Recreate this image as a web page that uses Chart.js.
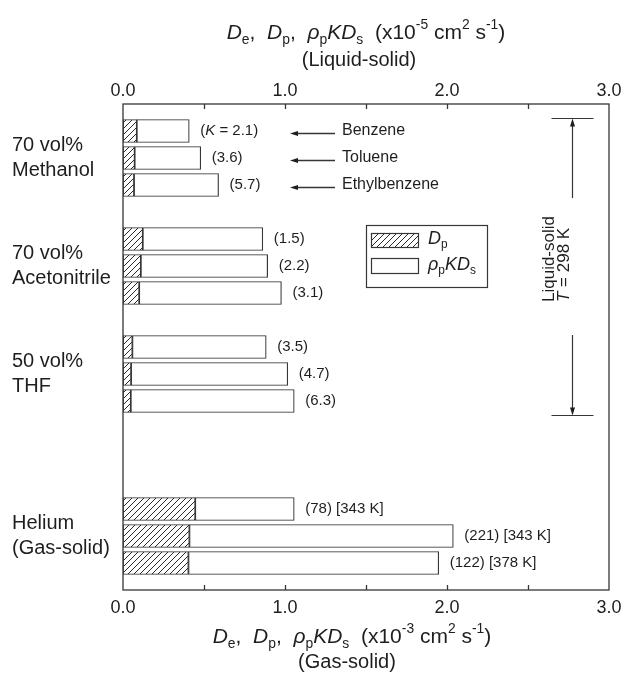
<!DOCTYPE html>
<html>
<head>
<meta charset="utf-8">
<script src="https://cdn.jsdelivr.net/npm/chart.js@4.4.1/dist/chart.umd.min.js"></script>
<style>
  html, body { margin: 0; padding: 0; background: #fff; }
  #wrap { width: 625px; height: 680px; position: relative; }
</style>
</head>
<body>
<div id="wrap"><canvas id="chart" width="625" height="680"></canvas></div>
<script>
// Pore (Dp) and surface (rho_p K Ds) diffusivities for three solutes
// in three liquid mobile phases, and for helium in the gas phase.
const groupNames = [
  ['70 vol%', 'Methanol'],
  ['70 vol%', 'Acetonitrile'],
  ['50 vol%', 'THF'],
  ['Helium', '(Gas-solid)']
];
const solutes = ['Benzene', 'Toluene', 'Ethylbenzene'];
const dpValues      = [0.085, 0.072, 0.068, 0.122, 0.110, 0.100, 0.058, 0.050, 0.048, 0.446, 0.410, 0.404];
const surfaceValues = [0.324, 0.408, 0.522, 0.741, 0.783, 0.878, 0.826, 0.967, 1.009, 0.611, 1.629, 1.545];
const kValues       = ['2.1', '3.6', '5.7', '1.5', '2.2', '3.1', '3.5', '4.7', '6.3', '78', '221', '122'];
const heliumTemps   = ['343 K', '343 K', '378 K'];
const tickLabels    = ['0.0', '1.0', '2.0', '3.0'];

// ---- layout constants ----
const FONT = '"Liberation Sans", Arial, Helvetica, sans-serif';
const INK = '#1e1e1e';
const LINE = '#363636';
const blankRowsBefore = [0, 1, 1, 3];

// Build the category rows (blank rows separate the groups)
const rows = [''];
const rowDp = [null];
const rowSurface = [null];
const rowInfo = [null];
let k = 0;
groupNames.forEach((g, gi) => {
  for (let b = 0; b < blankRowsBefore[gi]; b++) {
    rows.push(''); rowDp.push(null); rowSurface.push(null); rowInfo.push(null);
  }
  for (let s = 0; s < 3; s++) {
    rows.push(g[1] + ' ' + solutes[s]);
    rowDp.push(dpValues[k]);
    rowSurface.push(surfaceValues[k]);
    rowInfo.push({ group: gi, solute: s, idx: k });
    k++;
  }
});
rows.push(''); rowDp.push(null); rowSurface.push(null); rowInfo.push(null);

// Diagonal hatch pattern for Dp
function makeHatch() {
  const s = 6;
  const c = document.createElement('canvas');
  c.width = s; c.height = s;
  const g = c.getContext('2d');
  g.fillStyle = '#fff';
  g.fillRect(0, 0, s, s);
  g.strokeStyle = '#2a2a2a';
  g.lineWidth = 1;
  g.beginPath();
  g.moveTo(-1, s + 1); g.lineTo(s + 1, -1);
  g.moveTo(-1, 1); g.lineTo(1, -1);
  g.moveTo(s - 1, s + 1); g.lineTo(s + 1, s - 1);
  g.stroke();
  return g.createPattern(c, 'repeat');
}
const hatch = makeHatch();

// Draw text made of styled pieces (italic, subscript, superscript)
function richWidth(ctx, segs, size) {
  let w = 0;
  segs.forEach(s => {
    const fs = (s.sub || s.sup) ? size * 0.66 : size;
    ctx.font = (s.i ? 'italic ' : '') + fs + 'px ' + FONT;
    w += ctx.measureText(s.t).width;
  });
  return w;
}
function drawRich(ctx, segs, x, y, size, align) {
  const w = richWidth(ctx, segs, size);
  let cx = align === 'center' ? x - w / 2 : (align === 'right' ? x - w : x);
  ctx.textBaseline = 'middle';
  ctx.textAlign = 'left';
  segs.forEach(s => {
    const fs = (s.sub || s.sup) ? size * 0.66 : size;
    ctx.font = (s.i ? 'italic ' : '') + fs + 'px ' + FONT;
    let dy = 0;
    if (s.sub) dy = size * 0.32;
    if (s.sup) dy = -size * 0.36;
    ctx.fillText(s.t, cx, y + dy);
    cx += ctx.measureText(s.t).width;
  });
}

function axisTitle(exp) {
  return [
    { t: 'D', i: true }, { t: 'e', sub: true }, { t: ',  ' },
    { t: 'D', i: true }, { t: 'p', sub: true }, { t: ',  ' },
    { t: 'ρ', i: true }, { t: 'p', sub: true }, { t: 'KD', i: true }, { t: 's', sub: true },
    { t: '  (x10' }, { t: exp, sup: true }, { t: ' cm' }, { t: '2', sup: true },
    { t: ' s' }, { t: '-1', sup: true }, { t: ')' }
  ];
}

const decorations = {
  id: 'decorations',
  afterDatasetsDraw(chart) {
    const ctx = chart.ctx;
    const area = chart.chartArea;
    const xs = chart.scales.x;
    ctx.save();

    // frame
    ctx.strokeStyle = LINE;
    ctx.lineWidth = 1.3;
    ctx.strokeRect(area.left, area.top, area.right - area.left, area.bottom - area.top);

    // inward tick marks on top and bottom axes
    ctx.beginPath();
    for (let v = 0.5; v < 3; v += 0.5) {
      const px = Math.round(xs.getPixelForValue(v)) + 0.5;
      ctx.moveTo(px, area.bottom); ctx.lineTo(px, area.bottom - 5);
      ctx.moveTo(px, area.top); ctx.lineTo(px, area.top + 5);
    }
    ctx.stroke();

    // value labels after each bar
    const meta = chart.getDatasetMeta(1);
    ctx.fillStyle = INK;
    meta.data.forEach((bar, i) => {
      const info = rowInfo[i];
      if (!info) return;
      const x = bar.x + 11;
      const y = bar.y;
      let segs;
      if (info.idx === 0) {
        segs = [{ t: '(' }, { t: 'K', i: true }, { t: ' = ' + kValues[info.idx] + ')' }];
      } else if (info.group === 3) {
        segs = [{ t: '(' + kValues[info.idx] + ') [' + heliumTemps[info.solute] + ']' }];
      } else {
        segs = [{ t: '(' + kValues[info.idx] + ')' }];
      }
      drawRich(ctx, segs, x, y, 15, 'left');
    });

    // solute arrows beside the first group
    ctx.strokeStyle = LINE;
    ctx.fillStyle = INK;
    ctx.lineWidth = 1.3;
    meta.data.forEach((bar, i) => {
      const info = rowInfo[i];
      if (!info || info.group !== 0) return;
      const y = Math.round(bar.y) + 2.5;
      const x0 = area.left + 167, x1 = area.left + 212;
      ctx.beginPath();
      ctx.moveTo(x0 + 6, y); ctx.lineTo(x1, y);
      ctx.stroke();
      ctx.beginPath();
      ctx.moveTo(x0, y); ctx.lineTo(x0 + 8, y - 2.5); ctx.lineTo(x0 + 8, y + 2.5);
      ctx.closePath(); ctx.fill();
      ctx.font = '16px ' + FONT;
      ctx.textAlign = 'left';
      ctx.textBaseline = 'middle';
      ctx.fillText(solutes[info.solute], area.left + 219, bar.y);
    });

    // group labels on the left
    ctx.fillStyle = INK;
    ctx.font = '20px ' + FONT;
    ctx.textAlign = 'left';
    ctx.textBaseline = 'middle';
    groupNames.forEach((g, gi) => {
      const mid = meta.data.findIndex((b, i) => rowInfo[i] && rowInfo[i].group === gi && rowInfo[i].solute === 1);
      const y = meta.data[mid].y;
      ctx.fillText(g[0], 12, y - 12.5);
      ctx.fillText(g[1], 12, y + 12.5);
    });

    // legend box
    const lx = area.left + 243, ly = area.top + 121;
    ctx.strokeStyle = LINE;
    ctx.lineWidth = 1.2;
    ctx.strokeRect(lx + 0.5, ly + 0.5, 121, 62);
    ctx.fillStyle = hatch;
    ctx.fillRect(lx + 5, ly + 8, 47, 14);
    ctx.strokeRect(lx + 5.5, ly + 8.5, 47, 14);
    ctx.fillStyle = '#fff';
    ctx.fillRect(lx + 5, ly + 33, 47, 15);
    ctx.strokeRect(lx + 5.5, ly + 33.5, 47, 15);
    ctx.fillStyle = INK;
    drawRich(ctx, [{ t: 'D', i: true }, { t: 'p', sub: true }], lx + 62, ly + 14, 18, 'left');
    drawRich(ctx, [{ t: 'ρ', i: true }, { t: 'p', sub: true }, { t: 'KD', i: true }, { t: 's', sub: true }], lx + 62, ly + 40, 18, 'left');

    // liquid-solid range marker on the right
    const ax = area.left + 449.5;
    const yTop = area.top + 14.5, yBot = area.top + 311.5;
    ctx.strokeStyle = LINE;
    ctx.lineWidth = 1.2;
    ctx.beginPath();
    ctx.moveTo(ax - 21, yTop); ctx.lineTo(ax + 21, yTop);
    ctx.moveTo(ax - 21, yBot); ctx.lineTo(ax + 21, yBot);
    ctx.moveTo(ax, yTop + 6); ctx.lineTo(ax, area.top + 94);
    ctx.moveTo(ax, area.top + 231); ctx.lineTo(ax, yBot - 6);
    ctx.stroke();
    ctx.fillStyle = INK;
    ctx.beginPath();
    ctx.moveTo(ax, yTop); ctx.lineTo(ax - 2.5, yTop + 8); ctx.lineTo(ax + 2.5, yTop + 8); ctx.closePath();
    ctx.moveTo(ax, yBot); ctx.lineTo(ax - 2.5, yBot - 8); ctx.lineTo(ax + 2.5, yBot - 8); ctx.closePath();
    ctx.fill();

    ctx.save();
    ctx.translate(ax - 23, area.top + 198);
    ctx.rotate(-Math.PI / 2);
    ctx.font = '17px ' + FONT;
    ctx.textAlign = 'left';
    ctx.textBaseline = 'middle';
    ctx.fillText('Liquid-solid', 0, 0);
    ctx.restore();
    ctx.save();
    ctx.translate(ax - 8, area.top + 198);
    ctx.rotate(-Math.PI / 2);
    drawRich(ctx, [{ t: 'T', i: true }, { t: ' = 298 K' }], 0, 0, 17, 'left');
    ctx.restore();

    // axis titles
    ctx.fillStyle = INK;
    drawRich(ctx, axisTitle('-5'), 366, 33, 21, 'center');
    drawRich(ctx, [{ t: '(Liquid-solid)' }], 359, 60, 20, 'center');
    drawRich(ctx, axisTitle('-3'), 352, 637, 21, 'center');
    drawRich(ctx, [{ t: '(Gas-solid)' }], 347, 662, 20, 'center');

    ctx.restore();
  }
};

const tickCallback = v => {
  const i = Math.round(v);
  return Math.abs(v - i) < 1e-6 ? tickLabels[i] : '';
};

// Horizontal axes: fixed band height, no extra side padding for end labels
const fitX = h => s => {
  s.height = h;
  s.paddingLeft = 0;
  s.paddingRight = 0;
};

new Chart(document.getElementById('chart'), {
  type: 'bar',
  data: {
    labels: rows,
    datasets: [
      {
        label: 'Dp',
        data: rowDp,
        backgroundColor: hatch,
        borderColor: LINE,
        borderWidth: 1.2,
        borderSkipped: false,
        barThickness: 23
      },
      {
        label: 'rho_p K Ds',
        data: rowSurface,
        backgroundColor: '#ffffff',
        borderColor: LINE,
        borderWidth: 1.2,
        borderSkipped: false,
        barThickness: 23
      }
    ]
  },
  options: {
    indexAxis: 'y',
    responsive: false,
    animation: false,
    devicePixelRatio: 1,
    layout: { padding: { left: 0, right: 16, top: 0, bottom: 0 } },
    plugins: {
      legend: { display: false },
      tooltip: { enabled: false },
      title: { display: false }
    },
    scales: {
      x: {
        type: 'linear',
        position: 'bottom',
        stacked: true,
        min: 0, max: 3,
        afterFit: fitX(90),
        grid: { display: false, drawTicks: false },
        border: { display: false },
        ticks: {
          stepSize: 0.5,
          autoSkip: false,
          maxRotation: 0,
          padding: 7,
          color: INK,
          font: { family: FONT, size: 18 },
          callback: tickCallback
        }
      },
      x2: {
        type: 'linear',
        position: 'top',
        min: 0, max: 3,
        afterFit: fitX(104),
        grid: { display: false, drawTicks: false },
        border: { display: false },
        ticks: {
          stepSize: 0.5,
          autoSkip: false,
          maxRotation: 0,
          padding: 2,
          color: INK,
          font: { family: FONT, size: 18 },
          callback: tickCallback
        }
      },
      y: {
        type: 'category',
        stacked: true,
        offset: false,
        afterFit: s => { s.width = 123; },
        grid: { display: false, drawTicks: false },
        border: { display: false },
        ticks: { display: false }
      }
    }
  },
  plugins: [decorations]
});
</script>
</body>
</html>
